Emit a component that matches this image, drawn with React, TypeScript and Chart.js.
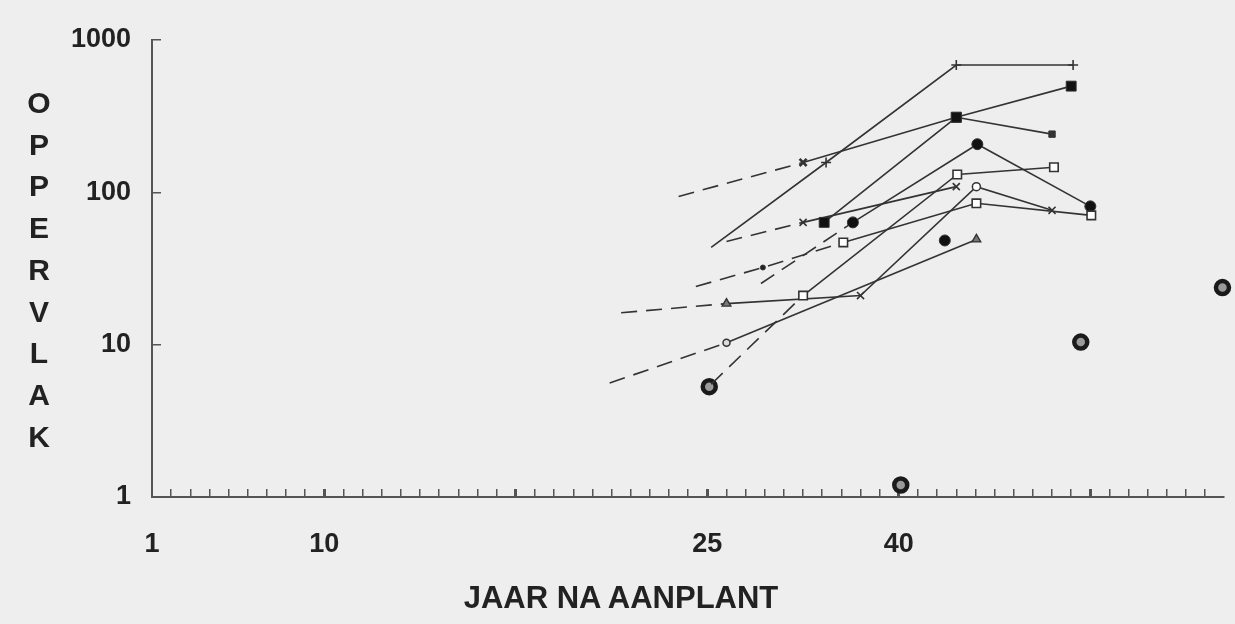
import React, { useEffect, useRef } from 'react';
import { Chart, registerables } from 'chart.js';

Chart.register(...registerables);

// ---- axis ticks ----
const xMin = 1;
const xMax = 56.98;
const xTickYears = [1, 10, 30, 40];
const xTickLabels = ['1', '10', '25', '40'];
const yTickValues = [1, 10, 100, 1000];
const xTitle = 'JAAR NA AANPLANT';
const yTitleLetters = ['O', 'P', 'P', 'E', 'R', 'V', 'L', 'A', 'K'];

// ---- series: year after planting / area ----
const plusYears = [30.2, 36.2, 43.0, 49.1];
const plusValues = [43.5, 157, 685, 685];
const plusDashed = [false, false, false];

const sqAYears = [28.5, 35.0, 43.0, 49.0];
const sqAValues = [94, 157, 311, 498];
const sqADashed = [true, false, false];

const sqBYears = [36.1, 43.0, 48.0];
const sqBValues = [63.5, 311, 241];
const sqBDashed = [false, false];

const crossYears = [31.0, 35.0, 43.0];
const crossValues = [47.6, 63.5, 109];
const crossDashed = [true, false];

const openAYears = [30.2, 35.0, 43.05, 48.1];
const openAValues = [5.5, 21, 131, 146];
const openADashed = [true, false, false];

const openBYears = [29.4, 32.9, 37.1, 44.05, 50.05];
const openBValues = [24.1, 32.1, 46.9, 84.7, 70.6];
const openBDashed = [true, true, false, false];

const dotYears = [32.8, 37.6, 44.1, 50.0];
const dotValues = [25.2, 63.5, 207, 80.9];
const dotDashed = [true, false, false];

const triYears = [25.5, 31.0, 38.0, 44.05, 48.0];
const triValues = [16.2, 18.6, 21.0, 109, 76.2];
const triDashed = [true, false, false, false];

const circYears = [24.9, 31.0, 44.05];
const circValues = [5.6, 10.3, 49.1];
const circDashed = [true, false];

const loneYears = [42.4];
const loneValues = [48.3];

const bigYears = [30.1, 40.1, 49.5, 56.9];
const bigValues = [5.3, 1.2, 10.4, 23.7];

// ---- marker styles (per point) ----
const INK = '#333333';
const BG = '#eeeeee';

type Mk = { s: any; r: number; f: string; w: number };
const none: Mk = { s: 'circle', r: 0, f: INK, w: 0 };
const plus: Mk = { s: 'cross', r: 5, f: INK, w: 1.6 };
const bow: Mk = { s: 'crossRot', r: 5, f: INK, w: 2.6 };
const fsq: Mk = { s: 'rect', r: 7, f: '#111', w: 1 };
const fsqS: Mk = { s: 'rect', r: 4.5, f: '#333', w: 1 };
const xm: Mk = { s: 'crossRot', r: 5, f: INK, w: 1.6 };
const osq: Mk = { s: 'rect', r: 6, f: '#ffffff', w: 1.6 };
const sdot: Mk = { s: 'circle', r: 2.5, f: '#222', w: 1 };
const fcir: Mk = { s: 'circle', r: 5.5, f: '#111', w: 1 };
const tri: Mk = { s: 'triangle', r: 5, f: '#777', w: 1.4 };
const ocir: Mk = { s: 'circle', r: 4, f: '#ffffff', w: 1.5 };
const ocirS: Mk = { s: 'circle', r: 3.5, f: '#dddddd', w: 1.5 };

function lineSet(xs: number[], ys: number[], dashed: boolean[], marks: Mk[]) {
  return {
    type: 'scatter' as const,
    data: xs.map((x, i) => ({ x, y: ys[i] })),
    showLine: true,
    borderColor: INK,
    borderWidth: 1.6,
    clip: false,
    pointStyle: marks.map((m) => m.s),
    pointRadius: marks.map((m) => m.r),
    pointBackgroundColor: marks.map((m) => m.f),
    pointBorderColor: marks.map(() => INK),
    pointBorderWidth: marks.map((m) => m.w),
    segment: {
      borderDash: (ctx: any) => (dashed[ctx.p0DataIndex] ? [16, 9] : undefined),
    },
  };
}

function zeroPad(s: any) {
  s.paddingLeft = 0;
  s.paddingRight = 0;
  s.paddingTop = 0;
  s.paddingBottom = 0;
}

export default function App() {
  const ref = useRef<HTMLCanvasElement | null>(null);

  useEffect(() => {
    document.body.style.margin = '0';
    document.body.style.background = BG;
    const canvas = ref.current;
    if (!canvas) return;
    const chart = new Chart(canvas, {
      type: 'scatter',
      data: {
        datasets: [
          lineSet(plusYears, plusValues, plusDashed, [none, plus, plus, plus]),
          lineSet(sqAYears, sqAValues, sqADashed, [none, bow, fsq, fsq]),
          lineSet(sqBYears, sqBValues, sqBDashed, [fsq, fsq, fsqS]),
          lineSet(crossYears, crossValues, crossDashed, [none, xm, xm]),
          lineSet(openAYears, openAValues, openADashed, [none, osq, osq, osq]),
          lineSet(openBYears, openBValues, openBDashed, [none, sdot, osq, osq, osq]),
          lineSet(dotYears, dotValues, dotDashed, [none, fcir, fcir, fcir]),
          lineSet(triYears, triValues, triDashed, [none, tri, xm, ocir, xm]),
          lineSet(circYears, circValues, circDashed, [none, ocirS, tri]),
          {
            type: 'scatter',
            data: loneYears.map((x, i) => ({ x, y: loneValues[i] })),
            showLine: false,
            clip: false,
            pointStyle: 'circle',
            pointRadius: 5.5,
            pointBackgroundColor: '#111',
            pointBorderColor: INK,
            pointBorderWidth: 1,
          },
          {
            type: 'scatter',
            data: bigYears.map((x, i) => ({ x, y: bigValues[i] })),
            showLine: false,
            clip: false,
            pointStyle: 'circle',
            pointRadius: 6.5,
            pointBackgroundColor: '#9a9a9a',
            pointBorderColor: '#1a1a1a',
            pointBorderWidth: 4.5,
          },
        ] as any,
      },
      options: {
        animation: false,
        responsive: false,
        events: [],
        layout: { padding: { top: 40, right: 1, left: 0, bottom: 0 } },
        plugins: { legend: { display: false }, tooltip: { enabled: false }, title: { display: false } },
        scales: {
          x: {
            type: 'linear',
            bounds: 'data',
            min: xMin,
            max: xMax,
            afterFit: (s: any) => {
              s.height = 127;
              zeroPad(s);
            },
            afterBuildTicks: (s: any) => {
              const t = [];
              for (let v = 1; v <= 56; v++) t.push({ value: v });
              s.ticks = t;
              s.min = xMin;
              s.max = xMax;
            },
            ticks: {
              autoSkip: false,
              maxRotation: 0,
              padding: 0,
              color: '#222',
              font: { family: 'Arial', size: 27, weight: 'bold', lineHeight: '112px' } as any,
              callback: (v: any) => {
                const i = xTickYears.indexOf(Number(v));
                return i >= 0 ? xTickLabels[i] : '';
              },
            },
            grid: {
              drawOnChartArea: false,
              drawTicks: true,
              tickLength: -8,
              color: '#555',
              lineWidth: (ctx: any) => (ctx.tick && ctx.tick.value % 10 === 0 ? 3 : 1.5),
            },
            border: { display: true, color: '#555', width: 2 },
          },
          y: {
            type: 'logarithmic',
            min: 1,
            max: 1000,
            afterFit: (s: any) => {
              s.width = 152;
              zeroPad(s);
            },
            afterBuildTicks: (s: any) => {
              s.ticks = yTickValues.map((v) => ({ value: v, major: true }));
            },
            ticks: {
              autoSkip: false,
              padding: 30,
              color: '#222',
              font: { family: 'Arial', size: 27, weight: 'bold' },
              callback: (v: any) => String(v),
            },
            grid: {
              drawOnChartArea: false,
              drawTicks: true,
              tickLength: -9,
              color: '#555',
              lineWidth: 1.5,
            },
            border: { display: true, color: '#555', width: 2 },
          },
        },
      },
    });
    return () => chart.destroy();
  }, []);

  return (
    <div style={{ position: 'relative', width: 1235, height: 624, background: BG, overflow: 'hidden' }}>
      <canvas ref={ref} width={1235} height={624} style={{ display: 'block' }} />
      <div
        style={{
          position: 'absolute',
          left: 21,
          top: 82,
          width: 36,
          fontFamily: 'Arial, "Liberation Sans", sans-serif',
          fontWeight: 'bold',
          fontSize: 30,
          lineHeight: '41.7px',
          color: '#222',
          textAlign: 'center',
        }}
      >
        {yTitleLetters.map((c, i) => (
          <div key={i}>{c}</div>
        ))}
      </div>
      <div
        style={{
          position: 'absolute',
          left: 621,
          top: 598,
          transform: 'translate(-50%, -50%)',
          whiteSpace: 'nowrap',
          fontFamily: 'Arial, "Liberation Sans", sans-serif',
          fontWeight: 'bold',
          fontSize: 31,
          color: '#222',
        }}
      >
        {xTitle}
      </div>
    </div>
  );
}
